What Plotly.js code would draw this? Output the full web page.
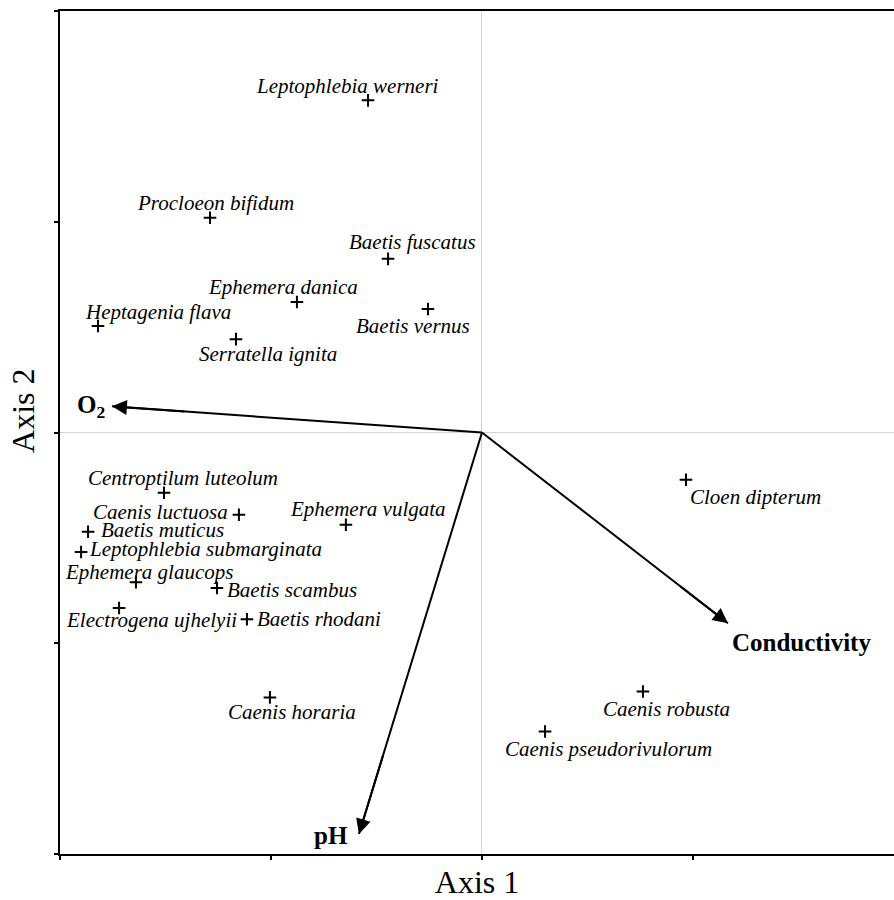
<!DOCTYPE html>
<html>
<head>
<meta charset="utf-8">
<script src="https://cdn.plot.ly/plotly-3.0.1.min.js"></script>
<style>
html,body{margin:0;padding:0;overflow:hidden;background:#fff;}
#chart{width:894px;height:900px;}
</style>
</head>
<body>
<div id="chart"></div>
<script>
// Species scores (Axis 1, Axis 2)
const species = [
  "Leptophlebia werneri","Procloeon bifidum","Baetis fuscatus","Ephemera danica",
  "Baetis vernus","Heptagenia flava","Serratella ignita","Centroptilum luteolum",
  "Caenis luctuosa","Baetis muticus","Leptophlebia submarginata","Ephemera glaucops",
  "Baetis scambus","Electrogena ujhelyii","Baetis rhodani","Ephemera vulgata",
  "Caenis horaria","Cloen dipterum","Caenis robusta","Caenis pseudorivulorum"
];
const axis1 = [-0.540,-1.289,-0.445,-0.877,-0.256,-1.820,-1.166,-1.507,
               -1.152,-1.867,-1.900,-1.640,-1.256,-1.720,-1.114,-0.645,
               -1.005,0.967,0.763,0.299];
const axis2 = [1.576,1.019,0.824,0.619,0.586,0.505,0.443,-0.286,
               -0.390,-0.471,-0.567,-0.710,-0.738,-0.833,-0.886,-0.438,
               -1.257,-0.224,-1.229,-1.419];

// Environmental variable vectors
const envNames = ["<b>O<sub>2</sub></b>","<b>Conductivity</b>","<b>pH</b>"];
const envAxis1 = [-1.754, 1.166, -0.583];
const envAxis2 = [0.124, -0.905, -1.905];

// Label placement (style only): [xanchor, xshift px, yshift px]
const labelPlace = [
  ["center",-21,14],["center",5,15],["center",24,17],["center",-14,15],
  ["center",-15,-17],["center",60,14],["center",32,-15],["center",19,15],
  ["right",-9,3],["left",11,2],["left",6,3],["center",13,10],
  ["left",8,-2],["center",32,-12],["left",8,0],["center",22,16],
  ["center",22,-15],["left",2,-17],["center",24,-17],["center",63,-17]
];
const envLabelPlace = [["right",-5,0],["left",2,-19],["right",-9,-2]];

const FONT = "Liberation Serif, Times New Roman, serif";

const traces = [];
// vector shafts from the origin
envNames.forEach((n, i) => {
  traces.push({
    type: "scatter", mode: "lines",
    x: [0, envAxis1[i]], y: [0, envAxis2[i]],
    line: {color: "#000", width: 2},
    hoverinfo: "skip", showlegend: false
  });
});
traces.push({
  type: "scatter",
  mode: "markers",
  x: axis1,
  y: axis2,
  text: species,
  hoverinfo: "text",
  marker: {symbol: "cross-thin", size: 9, color: "#000", line: {width: 2, color: "#000"}},
  showlegend: false
});

const annotations = [];
species.forEach((s, i) => {
  const p = labelPlace[i];
  annotations.push({
    x: axis1[i], y: axis2[i], xref: "x", yref: "y",
    text: "<i>" + s + "</i>", showarrow: false,
    xanchor: p[0], yanchor: "middle", xshift: p[1], yshift: p[2],
    font: {family: FONT, size: 21, color: "#000"}
  });
});
envNames.forEach((n, i) => {
  // arrowhead at the vector tip
  annotations.push({
    x: envAxis1[i], y: envAxis2[i], xref: "x", yref: "y",
    ax: envAxis1[i] * 0.8, ay: envAxis2[i] * 0.8, axref: "x", ayref: "y",
    text: " ", font: {size: 1}, showarrow: true, arrowhead: 2, arrowsize: 1.5, arrowwidth: 2,
    arrowcolor: "#000", standoff: 0, startstandoff: 0
  });
  const p = envLabelPlace[i];
  annotations.push({
    x: envAxis1[i], y: envAxis2[i], xref: "x", yref: "y",
    text: n, showarrow: false, xanchor: p[0], yanchor: "middle",
    xshift: p[1], yshift: p[2],
    font: {family: FONT, size: 25, color: "#000"}
  });
});
// Axis 2 title (vertical)
annotations.push({
  xref: "paper", yref: "paper", x: -0.0444, y: 0.5255,
  text: "Axis 2", textangle: -90, showarrow: false,
  xanchor: "center", yanchor: "middle",
  font: {family: FONT, size: 32, color: "#000"}
});

const layout = {
  width: 894, height: 900,
  margin: {l: 60, r: 0, t: 11, b: 46},
  paper_bgcolor: "#fff", plot_bgcolor: "#fff",
  font: {family: FONT, color: "#000"},
  xaxis: {
    range: [-2, 1.953], tick0: 0, dtick: 1,
    showgrid: false, zeroline: true, zerolinecolor: "#d4d4d4", zerolinewidth: 1,
    showline: true, linecolor: "#000", linewidth: 2, mirror: true,
    ticks: "outside", ticklen: 4, tickwidth: 2, tickcolor: "#000",
    showticklabels: false,
    title: {text: "Axis 1", font: {family: FONT, size: 32, color: "#000"}, standoff: 12},
    automargin: false, fixedrange: true
  },
  yaxis: {
    range: [-2, 2], tick0: 0, dtick: 1,
    showgrid: false, zeroline: true, zerolinecolor: "#d4d4d4", zerolinewidth: 1,
    showline: true, linecolor: "#000", linewidth: 2, mirror: false,
    ticks: "outside", ticklen: 4, tickwidth: 2, tickcolor: "#000",
    showticklabels: false,
    automargin: false, fixedrange: true
  },
  annotations: annotations,
  hovermode: "closest"
};

Plotly.newPlot("chart", traces, layout, {displayModeBar: false, staticPlot: true});
</script>
</body>
</html>
